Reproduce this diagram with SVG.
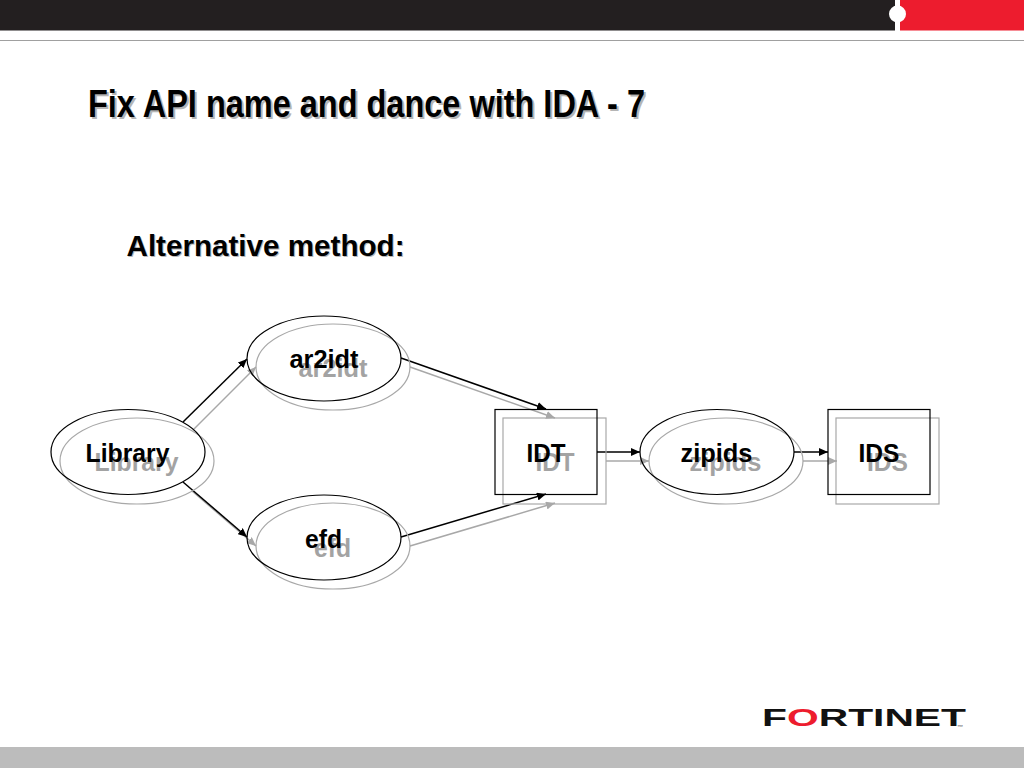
<svg xmlns="http://www.w3.org/2000/svg" width="1024" height="768" viewBox="0 0 1024 768">
<style>
text{font-family:"Liberation Sans",Arial,sans-serif;font-weight:bold}
.l{font-size:26.5px;text-anchor:middle}
.k{fill:#000}
.g{fill:#a3a3a3}
.sb{fill:none;stroke:#000;stroke-width:1.2}
.sg{fill:none;stroke:#a8a8a8;stroke-width:1.2}
.cb{stroke:#000;stroke-width:1.5;fill:none;marker-end:url(#ab)}
.cg{stroke:#a8a8a8;stroke-width:1.5;fill:none;marker-end:url(#ag)}
</style>
<defs>
<marker id="ab" markerUnits="userSpaceOnUse" markerWidth="10" markerHeight="8" refX="9" refY="4" orient="auto"><path d="M0 0L9 4L0 8z" fill="#000"/></marker>
<marker id="ag" markerUnits="userSpaceOnUse" markerWidth="10" markerHeight="8" refX="9" refY="4" orient="auto"><path d="M0 0L9 4L0 8z" fill="#a8a8a8"/></marker>
</defs>
<rect width="1024" height="768" fill="#fff"/>
<g id="header">
<rect x="0" y="0" width="895" height="30.5" fill="#231f20"/>
<rect x="900" y="0" width="124" height="30.5" fill="#ed1c2e"/>
<circle cx="897.5" cy="14" r="8.5" fill="#fff"/>
<rect x="0" y="40" width="1024" height="1" fill="#a0a0a0"/>
</g>
<rect id="footer" x="0" y="747" width="1024" height="21" fill="#bcbcbc"/>
<g id="title">
<text x="90" y="119" font-size="39" fill="#b5b5b5" textLength="557" lengthAdjust="spacingAndGlyphs">Fix API name and dance with IDA - 7</text>
<text x="88" y="117" font-size="39" fill="#000" textLength="557" lengthAdjust="spacingAndGlyphs">Fix API name and dance with IDA - 7</text>
</g>
<g id="subtitle">
<text x="127.5" y="257" font-size="29.5" fill="#b8b8b8" textLength="278" lengthAdjust="spacingAndGlyphs">Alternative method:</text>
<text x="126.500" y="255.5" font-size="29.5" fill="#000" textLength="278" lengthAdjust="spacingAndGlyphs">Alternative method:</text>
</g>
<g id="connectors">
<path class="cg" d="M193 430L256 367"/>
<path class="cg" d="M192 491L256 546"/>
<path class="cg" d="M410 367L555 418"/>
<path class="cg" d="M410 546L555 503"/>
<path class="cg" d="M606 461L649 461"/>
<path class="cg" d="M803 461L837 461"/>
<path class="cb" d="M183 422L247 359"/>
<path class="cb" d="M183 482L247 537"/>
<path class="cb" d="M401 358L546 409"/>
<path class="cb" d="M401 537L546 494"/>
<path class="cb" d="M597 452L640 452"/>
<path class="cb" d="M794 452L828 452"/>
</g>
<g id="node-library">
<ellipse class="sg" cx="137" cy="461" rx="77" ry="43"/>
<text class="l g" x="136.500" y="471" textLength="84" lengthAdjust="spacingAndGlyphs">Library</text>
<ellipse class="sb" cx="128" cy="452" rx="77" ry="42.5"/>
<text class="l k" x="127.500" y="462" textLength="84" lengthAdjust="spacingAndGlyphs">Library</text>
</g>
<g id="node-ar2idt">
<ellipse class="sg" cx="333" cy="367" rx="77" ry="43"/>
<text class="l g" x="333" y="377" textLength="69" lengthAdjust="spacingAndGlyphs">ar2idt</text>
<ellipse class="sb" cx="324" cy="358.500" rx="77" ry="42.5"/>
<text class="l k" x="324" y="368" textLength="69" lengthAdjust="spacingAndGlyphs">ar2idt</text>
</g>
<g id="node-efd">
<ellipse class="sg" cx="333" cy="546" rx="77" ry="43"/>
<text class="l g" x="332.500" y="557" textLength="37" lengthAdjust="spacingAndGlyphs">efd</text>
<ellipse class="sb" cx="324" cy="537.500" rx="77" ry="42.5"/>
<text class="l k" x="323.500" y="548" textLength="37" lengthAdjust="spacingAndGlyphs">efd</text>
</g>
<g id="node-idt">
<rect class="sg" x="503" y="418" width="103" height="86"/>
<text class="l g" x="555" y="471" textLength="39" lengthAdjust="spacingAndGlyphs">IDT</text>
<rect class="sb" x="495" y="409.500" width="102" height="85"/>
<text class="l k" x="546" y="462" textLength="39" lengthAdjust="spacingAndGlyphs">IDT</text>
</g>
<g id="node-zipids">
<ellipse class="sg" cx="726" cy="461" rx="77" ry="43"/>
<text class="l g" x="725.500" y="471" textLength="72" lengthAdjust="spacingAndGlyphs">zipids</text>
<ellipse class="sb" cx="717" cy="452" rx="77" ry="42.5"/>
<text class="l k" x="716.500" y="462" textLength="72" lengthAdjust="spacingAndGlyphs">zipids</text>
</g>
<g id="node-ids">
<rect class="sg" x="836" y="418" width="103" height="86"/>
<text class="l g" x="887.500" y="471" textLength="41" lengthAdjust="spacingAndGlyphs">IDS</text>
<rect class="sb" x="828" y="409.500" width="102" height="85"/>
<text class="l k" x="879" y="462" textLength="41" lengthAdjust="spacingAndGlyphs">IDS</text>
</g>
<g id="logo">
<text x="762" y="726" font-size="24" fill="#111" textLength="204" lengthAdjust="spacingAndGlyphs">F<tspan fill="#ed1c2e">O</tspan>RTINET</text>
<text x="957" y="729" font-size="6" fill="#777" font-weight="normal">™</text>
</g>
</svg>
